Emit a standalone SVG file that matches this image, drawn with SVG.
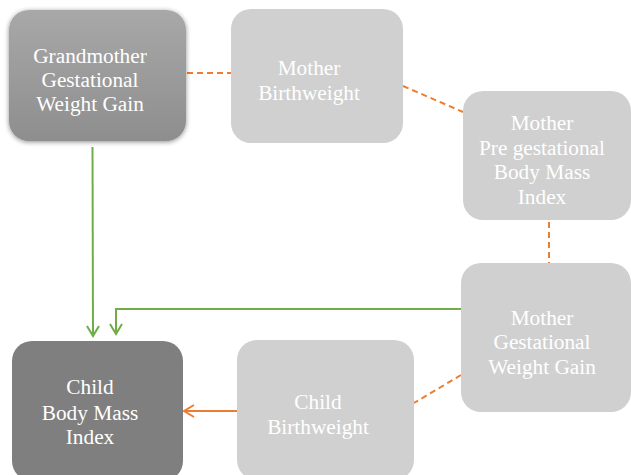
<svg xmlns="http://www.w3.org/2000/svg" width="631" height="475" viewBox="0 0 631 475">
<defs>
<linearGradient id="gGrad" x1="0" y1="0" x2="0" y2="1">
<stop offset="0" stop-color="#a8a8a8"/>
<stop offset="1" stop-color="#8e8e8e"/>
</linearGradient>
<filter id="shadow" x="-20%" y="-20%" width="140%" height="140%">
<feGaussianBlur in="SourceAlpha" stdDeviation="2.5"/>
<feOffset dx="0" dy="1" result="b"/>
<feComponentTransfer><feFuncA type="linear" slope="0.45"/></feComponentTransfer>
<feMerge><feMergeNode/><feMergeNode in="SourceGraphic"/></feMerge>
</filter>
<marker id="arrG" markerWidth="14" markerHeight="14" refX="11" refY="7" orient="auto" markerUnits="userSpaceOnUse">
<path d="M1,1 L11,7 L1,13" fill="none" stroke="#70ad47" stroke-width="2"/>
</marker>
<marker id="arrO" markerWidth="14" markerHeight="14" refX="11" refY="7" orient="auto" markerUnits="userSpaceOnUse">
<path d="M1,1 L11,7 L1,13" fill="none" stroke="#ed7d31" stroke-width="2"/>
</marker>
</defs>
<style>
.light{fill:#d0d0d0}
.t{font-family:"Liberation Serif","Times New Roman",serif;font-size:21.3px;fill:#ffffff;text-anchor:middle}
.dash{stroke:#ed7d31;stroke-width:2;stroke-dasharray:6 4;fill:none}
.green{stroke:#70ad47;stroke-width:2;fill:none}
.orange{stroke:#ed7d31;stroke-width:2;fill:none}
</style>
<g id="connectors">
<line class="dash" x1="187" y1="73" x2="231" y2="73"/>
<line class="dash" x1="403" y1="86" x2="463" y2="112"/>
<line class="dash" x1="549" y1="222" x2="549" y2="263"/>
<line class="dash" x1="461" y1="375" x2="414" y2="403"/>
<line class="orange" x1="237" y1="411" x2="184" y2="411" marker-end="url(#arrO)"/>
<line class="green" x1="92.5" y1="147" x2="93" y2="336" marker-end="url(#arrG)"/>
<polyline class="green" points="461,309 116,309 116,334" marker-end="url(#arrG)"/>
</g>
<g id="grandmother">
<rect x="9" y="10" width="177" height="131" rx="20" fill="url(#gGrad)" filter="url(#shadow)"/>
<text class="t" x="90" y="63">Grandmother</text>
<text class="t" x="90" y="87">Gestational</text>
<text class="t" x="90" y="111">Weight Gain</text>
</g>
<g id="mother-birthweight">
<rect class="light" x="231" y="9" width="172" height="134" rx="20"/>
<text class="t" x="309" y="75">Mother</text>
<text class="t" x="309" y="100">Birthweight</text>
</g>
<g id="mother-pre-bmi">
<rect class="light" x="463" y="91" width="168" height="129" rx="20"/>
<text class="t" x="542" y="130">Mother</text>
<text class="t" x="542" y="155">Pre gestational</text>
<text class="t" x="542" y="179">Body Mass</text>
<text class="t" x="542" y="204">Index</text>
</g>
<g id="mother-gwg">
<rect class="light" x="461" y="263" width="170" height="149" rx="20"/>
<text class="t" x="542" y="325">Mother</text>
<text class="t" x="542" y="349">Gestational</text>
<text class="t" x="542" y="374">Weight Gain</text>
</g>
<g id="child-birthweight">
<rect class="light" x="237" y="340" width="177" height="140" rx="20"/>
<text class="t" x="318" y="409">Child</text>
<text class="t" x="318" y="434">Birthweight</text>
</g>
<g id="child-bmi">
<rect x="12" y="341" width="171" height="140" rx="20" fill="#7f7f7f"/>
<text class="t" x="90" y="394">Child</text>
<text class="t" x="90" y="420">Body Mass</text>
<text class="t" x="90" y="444">Index</text>
</g>
</svg>
